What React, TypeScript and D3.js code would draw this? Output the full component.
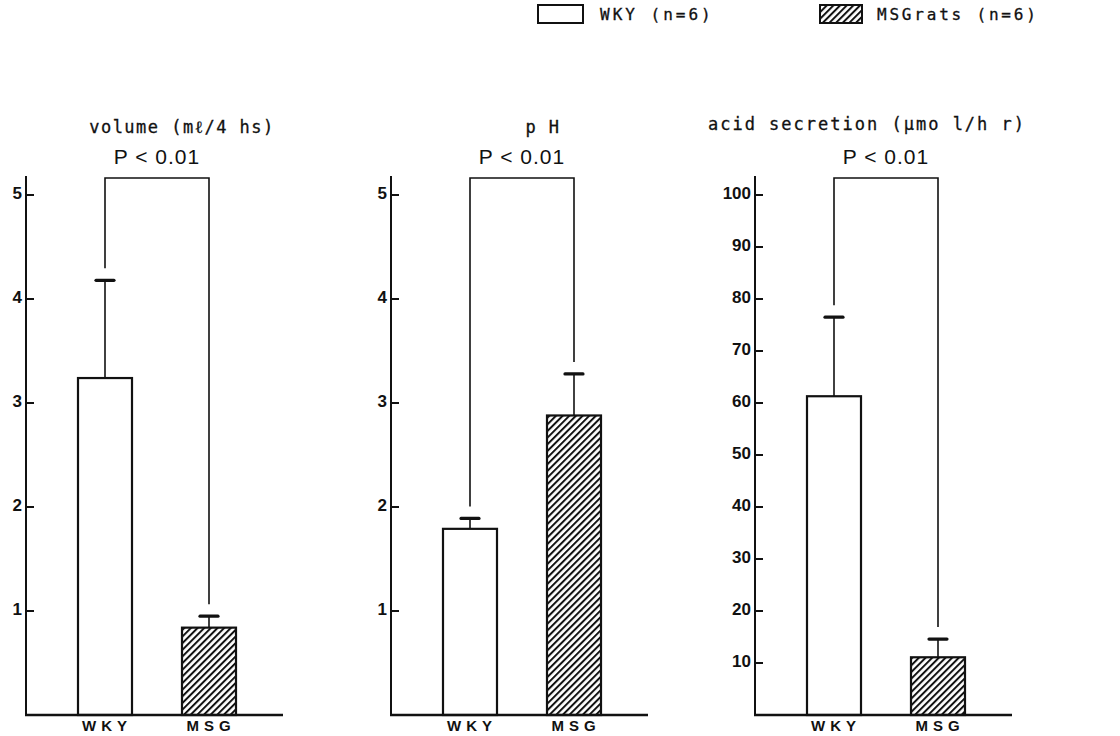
import React from "react";
import * as d3 from "d3";

const groups = ["WKY", "MSG"];
const volumeMean = [3.24, 0.84];
const volumeErr = [0.94, 0.11];
const phMean = [1.79, 2.88];
const phErr = [0.1, 0.4];
const acidMean = [61.3, 11.1];
const acidErr = [15.2, 3.5];
const volumeTicks = [1, 2, 3, 4, 5];
const phTicks = [1, 2, 3, 4, 5];
const acidTicks = [10, 20, 30, 40, 50, 60, 70, 80, 90, 100];
const titles = ["volume (mℓ/4 hs)", "p H", "acid secretion (µmo l/h r)"];
const pText = "P < 0.01";
const legendLabels = ["WKY (n=6)", "MSGrats (n=6)"];

const W = 1120;
const H = 736;
const baseY = 715;
const topY = 195;
const bracketY = 178;
const barW = 54;
const mono = "'DejaVu Sans Mono', monospace";
const sans = "'Liberation Sans', Arial, sans-serif";
const ink = "#111";

type PanelProps = {
  x0: number;
  mean: number[];
  err: number[];
  ticks: number[];
  max: number;
  title: string;
  titleX: number;
  titleY: number;
  titleSpacing: number;
};

const Panel = ({ x0, mean, err, ticks, max, title, titleX, titleY, titleSpacing }: PanelProps) => {
  const y = d3.scaleLinear().domain([0, max]).range([baseY, topY]);
  const x = d3.scalePoint<string>().domain(groups).range([x0 + 79, x0 + 183]);
  const caps = mean.map((m, i) => y(m + err[i]));
  const bx = groups.map((g) => x(g) as number);
  return (
    <g>
      <text x={x0 + titleX} y={titleY} textAnchor="middle" dominantBaseline="middle"
        fontFamily={mono} fontSize={17} letterSpacing={titleSpacing} fill={ink}
        stroke={ink} strokeWidth={0.3}>{title}</text>
      <text x={(bx[0] + bx[1]) / 2} y={158} textAnchor="middle" dominantBaseline="middle"
        fontFamily={sans} fontSize={21} letterSpacing={1} fill={ink}>{pText}</text>
      {/* significance bracket */}
      <path
        d={`M${bx[0]},${caps[0] - 12}V${bracketY}H${bx[1]}V${caps[1] - 12}`}
        fill="none" stroke={ink} strokeWidth={1.6} />
      {/* y axis */}
      <line x1={x0} x2={x0} y1={176} y2={baseY} stroke={ink} strokeWidth={2} />
      {ticks.map((t) => (
        <g key={t}>
          <line x1={x0} x2={x0 + 8} y1={y(t)} y2={y(t)} stroke={ink} strokeWidth={2} />
          <text x={x0 - 4} y={y(t)} textAnchor="end" dominantBaseline="middle"
            fontFamily={sans} fontWeight="bold" fontSize={17} fill={ink}>{t}</text>
        </g>
      ))}
      {groups.map((g, i) => (
        <g key={g}>
          <line x1={bx[i]} x2={bx[i]} y1={y(mean[i])} y2={caps[i]} stroke={ink} strokeWidth={1.6} />
          <line x1={bx[i] - 9} x2={bx[i] + 9} y1={caps[i]} y2={caps[i]} stroke={ink}
            strokeWidth={3.2} strokeLinecap="round" />
          <rect x={bx[i] - barW / 2} y={y(mean[i])} width={barW} height={baseY - y(mean[i])}
            fill={i === 0 ? "#fff" : "url(#hatch)"} stroke={ink} strokeWidth={2.2} />
          <text x={bx[i] + 2} y={727} textAnchor="middle" dominantBaseline="middle"
            fontFamily={sans} fontWeight="bold" fontSize={15} letterSpacing={5} fill={ink}>{g}</text>
        </g>
      ))}
      <line x1={x0 - 1} x2={x0 + 257} y1={baseY} y2={baseY} stroke={ink} strokeWidth={2.5} />
    </g>
  );
};

const App = () => {
  return (
    <svg width={W} height={H} style={{ position: "absolute", left: 0, top: 0, background: "#fff" }}>
      <defs>
        <pattern id="hatch" patternUnits="userSpaceOnUse" width={4.7} height={10}
          patternTransform="rotate(45)">
          <rect width={4.7} height={10} fill="#fff" />
          <line x1={1} x2={1} y1={0} y2={10} stroke={ink} strokeWidth={2} />
        </pattern>
      </defs>
      {/* legend */}
      <rect x={538} y={5} width={45} height={18} fill="#fff" stroke={ink} strokeWidth={2} />
      <text x={600} y={15} dominantBaseline="middle" fontFamily={mono} fontSize={16}
        letterSpacing={3} fill={ink} stroke={ink} strokeWidth={0.3}>{legendLabels[0]}</text>
      <rect x={820} y={5} width={42} height={18} fill="url(#hatch)" stroke={ink} strokeWidth={2} />
      <text x={877} y={15} dominantBaseline="middle" fontFamily={mono} fontSize={16}
        letterSpacing={2.8} fill={ink} stroke={ink} strokeWidth={0.3}>{legendLabels[1]}</text>

      <Panel x0={26} mean={volumeMean} err={volumeErr} ticks={volumeTicks} max={5}
        title={titles[0]} titleX={156} titleY={128} titleSpacing={1.5} />
      <Panel x0={391} mean={phMean} err={phErr} ticks={phTicks} max={5}
        title={titles[1]} titleX={152} titleY={128} titleSpacing={1.5} />
      <Panel x0={755} mean={acidMean} err={acidErr} ticks={acidTicks} max={100}
        title={titles[2]} titleX={112} titleY={125} titleSpacing={2} />
    </svg>
  );
};

export default App;
